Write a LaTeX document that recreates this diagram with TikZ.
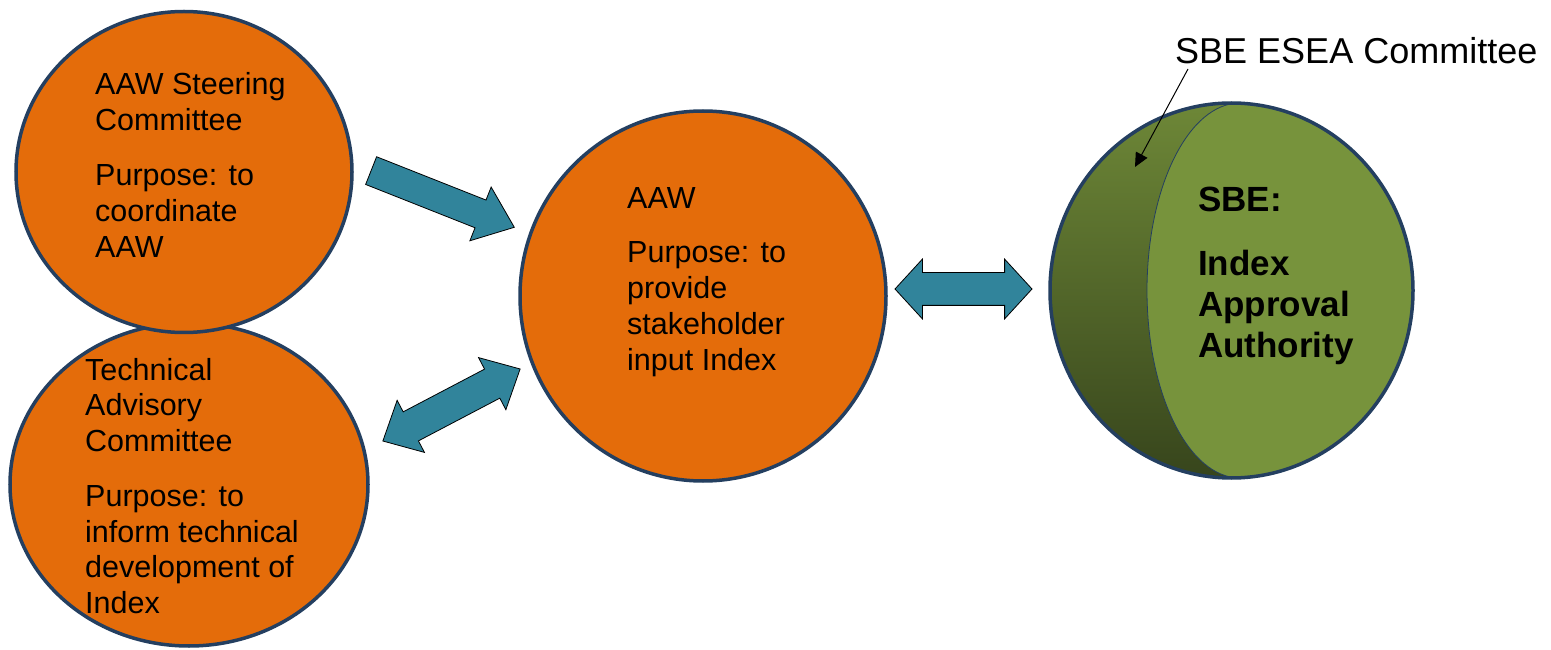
\documentclass[tikz,border=0pt]{standalone}
\usepackage{fontspec}
\setmainfont{Liberation Sans}
\usetikzlibrary{shapes.geometric,shapes.arrows,arrows.meta}

\definecolor{aaworange}{HTML}{E46C0A}
\definecolor{rimblue}{HTML}{243F60}
\definecolor{arrowteal}{HTML}{31849B}
\definecolor{sbegreen}{HTML}{77933C}
\definecolor{sbedark}{HTML}{37451C}

\begin{document}
\begin{tikzpicture}[x=1pt,y=1pt,
  group/.style={ellipse, draw=rimblue, line width=3.5pt, fill=aaworange, inner sep=0pt},
  purpose/.style={align=left, inner sep=0pt, anchor=north west, font=\fontsize{30.5}{36}\selectfont},
  blockarrow/.style={draw=black, line width=.8pt, fill=arrowteal, inner xsep=0pt}]
  \useasboundingbox (0,0) rectangle (1551,649);

  %% left circles
  \node[group, minimum width=358pt, minimum height=323pt] (tac) at (189,164.5) {};
  \node[group, minimum width=336pt, minimum height=321pt] (steer) at (184,477) {};

  %% middle circle
  \node[group, minimum width=366pt, minimum height=370pt] (aaw) at (703,353) {};

  %% right circle with the committee crescent
  \node[group, fill=sbegreen, minimum width=363pt, minimum height=375pt,
    path picture={
      \shade[top color=sbegreen!92!black, bottom color=sbedark]
        (path picture bounding box.south west) rectangle ([xshift=12pt]path picture bounding box.north);
      \fill[sbegreen] ([xshift=8.5pt]path picture bounding box.north)
        arc[start angle=90, end angle=270, x radius=93, y radius=187.5]
        -- (path picture bounding box.south east) -- (path picture bounding box.north east) -- cycle;
      \draw[line width=.8pt] ([xshift=8.5pt]path picture bounding box.north)
        arc[start angle=90, end angle=270, x radius=93, y radius=187.5];
    }] (sbe) at (1231.5,358.5) {};

  %% texts
  \node[purpose] (steertxt) at (95,577) {AAW Steering\\Committee\\[19pt]Purpose: to\\coordinate\\AAW};
  \node[purpose, font=\fontsize{30.5}{35.5}\selectfont] (tactxt) at (85,291)
    {Technical\\Advisory\\Committee\\[20pt]Purpose: to\\inform technical\\development of\\Index};
  \node[purpose] (aawtxt) at (627,462) {AAW\\[18pt]Purpose: to\\provide\\stakeholder\\input Index};
  \node[purpose, font=\bfseries\fontsize{35}{41}\selectfont] (sbetxt) at (1198,462)
    {SBE:\\[23pt]Index\\Approval\\Authority};

  %% block arrows
  \node[blockarrow, single arrow, rotate=-21.6, minimum height=154pt, minimum width=57pt,
    single arrow head extend=14pt, single arrow tip angle=77, inner ysep=14.5pt] (steerarrow) at (434,453.5) {};
  \node[blockarrow, double arrow, rotate=27.7, minimum height=155pt, minimum width=58pt,
    double arrow head extend=13pt, double arrow tip angle=86, inner ysep=16pt] (tacarrow) at (451.5,244) {};
  \node[blockarrow, double arrow, minimum height=137pt, minimum width=59pt,
    double arrow head extend=13.5pt, double arrow tip angle=95, inner ysep=16pt] (sbearrow) at (963.5,360) {};

  %% committee label
  \node[anchor=base west, inner sep=0pt, font=\fontsize{36}{40}\selectfont] (esea) at (1175,585) {SBE ESEA Committee};
  \coordinate (crescent) at (1135,482);
  \draw[-{Triangle[length=14pt,width=13pt]}, line width=1pt] ([xshift=13pt,yshift=-5pt]esea.base west) -- (crescent);
\end{tikzpicture}
\end{document}
